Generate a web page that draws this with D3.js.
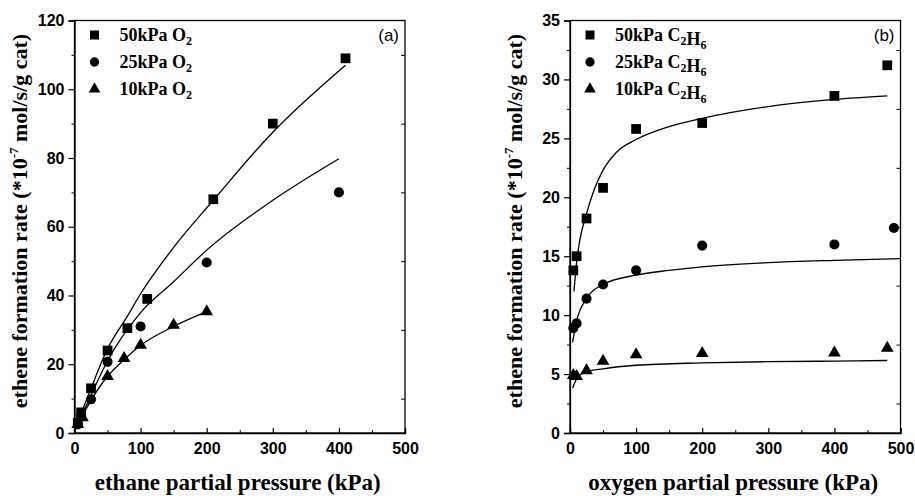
<!DOCTYPE html>
<html>
<head>
<meta charset="utf-8">
<script src="https://cdn.jsdelivr.net/npm/d3@7"></script>
<style>
body { margin: 0; background: #fff; }
</style>
</head>
<body>
<script>
// panel (a): rate vs ethane partial pressure, at three O2 levels
var seriesA = ["50kPa", "25kPa", "10kPa"];
var ethane50 = [[5, 3], [10, 6], [25, 13], [50, 24], [80, 30.5], [110, 39], [210, 68], [300, 90], [410, 109]];
var ethane25 = [[5, 2.5], [10, 5], [25, 9.8], [50, 20.7], [100, 31], [200, 49.6], [400, 70]];
var ethane10 = [[5, 2.5], [12, 4.5], [50, 16.5], [75, 21.7], [100, 25.6], [150, 31.4], [200, 35.3]];
// fitted lines
var fitA50 = [[5, 3], [25, 13], [50, 24.5], [80, 34], [100, 40.5], [150, 54], [210, 67.7], [300, 87.5], [410, 107]];
var fitA25 = [[5, 2.5], [25, 11], [50, 21], [100, 35], [150, 44], [200, 53.2], [300, 67.7], [400, 79.8]];
var fitA10 = [[5, 2.5], [25, 9.5], [50, 16.5], [75, 21.3], [100, 25.5], [150, 31], [200, 35.3]];

// panel (b): rate vs oxygen partial pressure, at three C2H6 levels
var seriesB = ["50kPa", "25kPa", "10kPa"];
var oxygen50 = [[5, 13.8], [10, 15], [25, 18.2], [50, 20.8], [100, 25.8], [200, 26.3], [400, 28.6], [480, 31.2]];
var oxygen25 = [[5, 8.9], [10, 9.3], [25, 11.4], [50, 12.6], [100, 13.8], [200, 15.9], [400, 16], [490, 17.4]];
var oxygen10 = [[5, 4.9], [10, 4.8], [25, 5.3], [50, 6.1], [100, 6.65], [200, 6.75], [400, 6.8], [480, 7.2]];
var fitB50 = [[6, 12], [10, 14.5], [15, 16.4], [25, 18.6], [35, 20.4], [50, 22.3], [70, 23.8], [100, 24.9], [150, 26], [200, 26.7], [300, 27.7], [400, 28.3], [480, 28.6]];
var fitB25 = [[4, 7.7], [10, 9.5], [25, 11.4], [50, 12.6], [100, 13.4], [150, 13.8], [200, 14.1], [300, 14.45], [400, 14.65], [500, 14.8]];
var fitB10 = [[4, 3.8], [10, 4.6], [25, 5.2], [50, 5.45], [100, 5.75], [200, 5.95], [300, 6.05], [400, 6.1], [480, 6.15]];

var xTicks = [0, 100, 200, 300, 400, 500];
var yTicksA = [0, 20, 40, 60, 80, 100, 120];
var yTicksB = [0, 5, 10, 15, 20, 25, 30, 35];

var serif = "Liberation Serif, Times New Roman, serif";
var sans = "Liberation Sans, Arial, sans-serif";

var svg = d3.select("body").append("svg")
    .attr("width", 915)
    .attr("height", 496);

var shapes = [d3.symbolSquare, d3.symbolCircle, d3.symbolTriangle];
var sizes = [95, 80, 70];

function styleTicks(s) {
    s.select(".domain").attr("stroke-width", 1.3);
    s.selectAll(".tick line").attr("stroke-width", 1.2);
    s.selectAll(".tick text")
        .attr("font-family", sans)
        .attr("font-weight", "bold")
        .attr("font-size", 16);
}

function drawPanel(opt) {
    var x = d3.scaleLinear().domain([0, 500]).range([opt.left, opt.left + 330.5]);
    var y = d3.scaleLinear().domain([0, opt.ymax]).range([433, 20.5]);
    var g = svg.append("g");

    // frame
    g.append("rect")
        .attr("x", x(0)).attr("y", y(opt.ymax))
        .attr("width", x(500) - x(0)).attr("height", y(0) - y(opt.ymax))
        .attr("fill", "none").attr("stroke", "#000").attr("stroke-width", 1.3);

    // bottom axis: ticks point inwards
    var xMinor = d3.range(50, 500, 100);
    g.append("g")
        .attr("transform", "translate(0,433)")
        .call(d3.axisBottom(x).tickValues(xMinor).tickSize(-3).tickFormat(""))
        .call(function (s) { s.select(".domain").remove(); });
    g.append("g")
        .attr("transform", "translate(0,433)")
        .call(d3.axisBottom(x).tickValues(xTicks).tickSize(-5).tickPadding(10))
        .call(styleTicks);

    // left axis: ticks point outwards
    var step = opt.yTicks[1] / 2;
    var yMinor = d3.range(step, opt.ymax, step * 2);
    g.append("g")
        .attr("transform", "translate(" + x(0) + ",0)")
        .call(d3.axisLeft(y).tickValues(yMinor).tickSize(3).tickFormat(""))
        .call(function (s) { s.select(".domain").remove(); });
    g.append("g")
        .attr("transform", "translate(" + x(0) + ",0)")
        .call(d3.axisLeft(y).tickValues(opt.yTicks).tickSize(6).tickPadding(4))
        .call(styleTicks);
    // mirrored minor ticks on the right edge
    g.append("g")
        .attr("transform", "translate(" + x(500) + ",0)")
        .call(d3.axisRight(y).tickValues(yMinor).tickSize(-4).tickFormat(""))
        .call(function (s) { s.select(".domain").remove(); });

    // fitted lines
    var line = d3.line()
        .x(function (d) { return x(d[0]); })
        .y(function (d) { return y(d[1]); })
        .curve(d3.curveMonotoneX);
    opt.fits.forEach(function (f) {
        g.append("path").datum(f)
            .attr("d", line)
            .attr("fill", "none").attr("stroke", "#000").attr("stroke-width", 1.3);
    });

    // markers
    opt.points.forEach(function (pts, i) {
        g.selectAll(null).data(pts).enter().append("path")
            .attr("d", d3.symbol().type(shapes[i]).size(sizes[i]))
            .attr("transform", function (d) { return "translate(" + x(d[0]) + "," + y(d[1]) + ")"; })
            .attr("fill", "#000");
    });

    // legend
    opt.labels.forEach(function (lab, i) {
        var ly = 35 + i * 27;
        g.append("path")
            .attr("d", d3.symbol().type(shapes[i]).size(sizes[i] * 0.85))
            .attr("transform", "translate(" + (x(0) + opt.legX) + "," + ly + ")")
            .attr("fill", "#000");
        var t = g.append("text")
            .attr("x", x(0) + opt.legX + 25).attr("y", ly + 6)
            .attr("font-family", serif)
            .attr("font-weight", "bold").attr("font-size", 18);
        t.append("tspan").text(lab + " ");
        opt.gas.forEach(function (part) {
            t.append("tspan").text(part[0]);
            t.append("tspan").attr("font-size", 12).attr("dy", 4).text(part[1]);
            t.append("tspan").attr("dy", -4).text("");
        });
    });

    // panel tag
    g.append("text")
        .attr("x", x(500) - 6).attr("y", 41)
        .attr("text-anchor", "end")
        .attr("font-family", sans)
        .attr("font-size", 17)
        .text(opt.tag);

    // axis titles
    g.append("text")
        .attr("x", (x(0) + x(500)) / 2 - 2).attr("y", 490)
        .attr("text-anchor", "middle")
        .attr("font-family", serif)
        .attr("font-weight", "bold").attr("font-size", 23)
        .text(opt.xTitle);

    var yt = g.append("text")
        .attr("transform", "translate(" + (x(0) - 48) + ",221) rotate(-90)")
        .attr("text-anchor", "middle")
        .attr("font-family", serif)
        .attr("font-weight", "bold").attr("font-size", 22);
    yt.append("tspan").text("ethene formation rate (*10");
    yt.append("tspan").attr("font-size", 13).attr("dy", -9).text("-7");
    yt.append("tspan").attr("dy", 9).text(" mol/s/g cat)");
}

drawPanel({
    left: 74.5, ymax: 120, yTicks: yTicksA,
    points: [ethane50, ethane25, ethane10],
    fits: [fitA50, fitA25, fitA10],
    labels: seriesA, gas: [["O", "2"]], legX: 20,
    tag: "(a)", xTitle: "ethane partial pressure (kPa)"
});

drawPanel({
    left: 570, ymax: 35, yTicks: yTicksB,
    points: [oxygen50, oxygen25, oxygen10],
    fits: [fitB50, fitB25, fitB10],
    labels: seriesB, gas: [["C", "2"], ["H", "6"]], legX: 20,
    tag: "(b)", xTitle: "oxygen partial pressure (kPa)"
});
</script>
</body>
</html>
